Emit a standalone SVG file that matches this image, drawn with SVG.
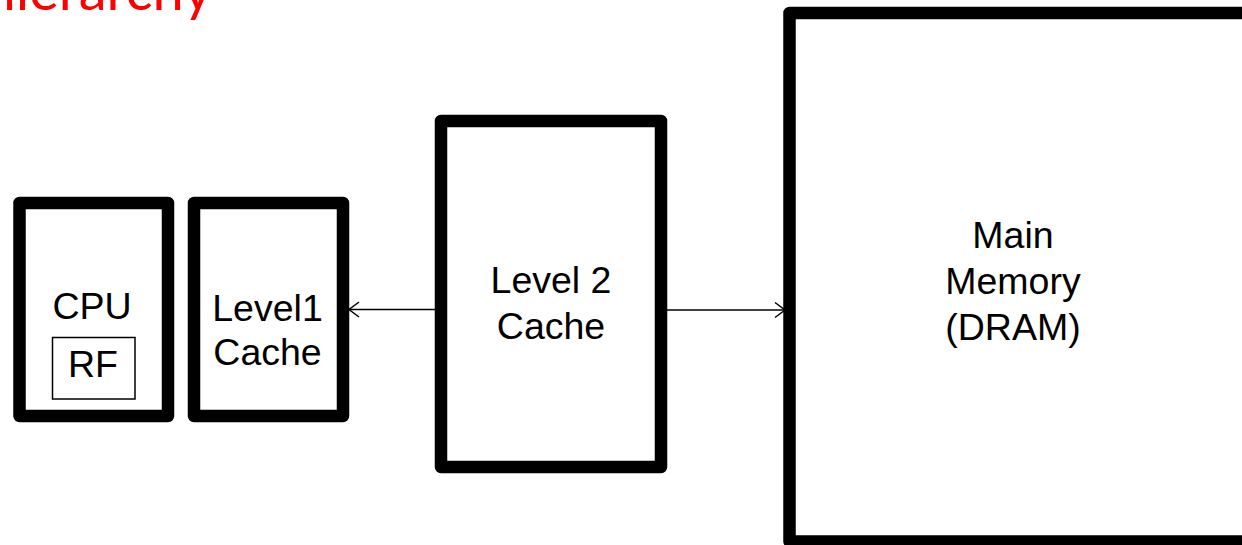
<svg xmlns="http://www.w3.org/2000/svg" width="1242" height="545" viewBox="0 0 1242 545">
  <style>
    .box { fill: #ffffff; stroke: #000000; stroke-width: 12.5; stroke-linejoin: round; }
    .inner { fill: #ffffff; stroke: #000000; stroke-width: 1.5; }
    .lbl { font-family: "Liberation Sans", Arial, sans-serif; font-size: 37.5px; fill: #000000; text-anchor: middle; }
    .conn { stroke: #000000; stroke-width: 1.5; fill: none; }
    .title { font-family: Lato, "Liberation Sans", sans-serif; font-size: 56px; fill: #ff0000; text-anchor: end; }
  </style>
  <defs>
    <marker id="open" markerUnits="userSpaceOnUse" markerWidth="14" markerHeight="20" refX="11" refY="9" orient="auto">
      <path d="M1,1.5 L11,9 L1,16.5" fill="none" stroke="#000000" stroke-width="1.5"/>
    </marker>
  </defs>
  <rect width="1242" height="545" fill="#ffffff"/>

  <text class="title" x="212" y="10">hierarchy</text>

  <g id="connectors">
    <line class="conn" x1="435" y1="309.5" x2="349" y2="309.5" marker-end="url(#open)"/>
    <line class="conn" x1="667" y1="310" x2="785" y2="310" marker-end="url(#open)"/>
  </g>

  <g id="cpu">
    <rect class="box" x="19.5" y="203" width="148.5" height="213"/>
    <text class="lbl" x="92" y="319">CPU</text>
    <g id="rf">
      <rect class="inner" x="52.5" y="337.5" width="82.5" height="61.5"/>
      <text class="lbl" x="93" y="377">RF</text>
    </g>
  </g>

  <g id="l1cache">
    <rect class="box" x="194" y="203" width="149" height="213"/>
    <text class="lbl" x="267.5" y="321">Level1</text>
    <text class="lbl" x="267.5" y="364.5">Cache</text>
  </g>

  <g id="l2cache">
    <rect class="box" x="441" y="121" width="220" height="346"/>
    <text class="lbl" x="551" y="293">Level 2</text>
    <text class="lbl" x="551" y="339">Cache</text>
  </g>

  <g id="mainmemory">
    <rect class="box" x="789.5" y="13" width="480" height="528.5"/>
    <text class="lbl" x="1013" y="248">Main</text>
    <text class="lbl" x="1013" y="294">Memory</text>
    <text class="lbl" x="1013" y="340">(DRAM)</text>
  </g>
</svg>
